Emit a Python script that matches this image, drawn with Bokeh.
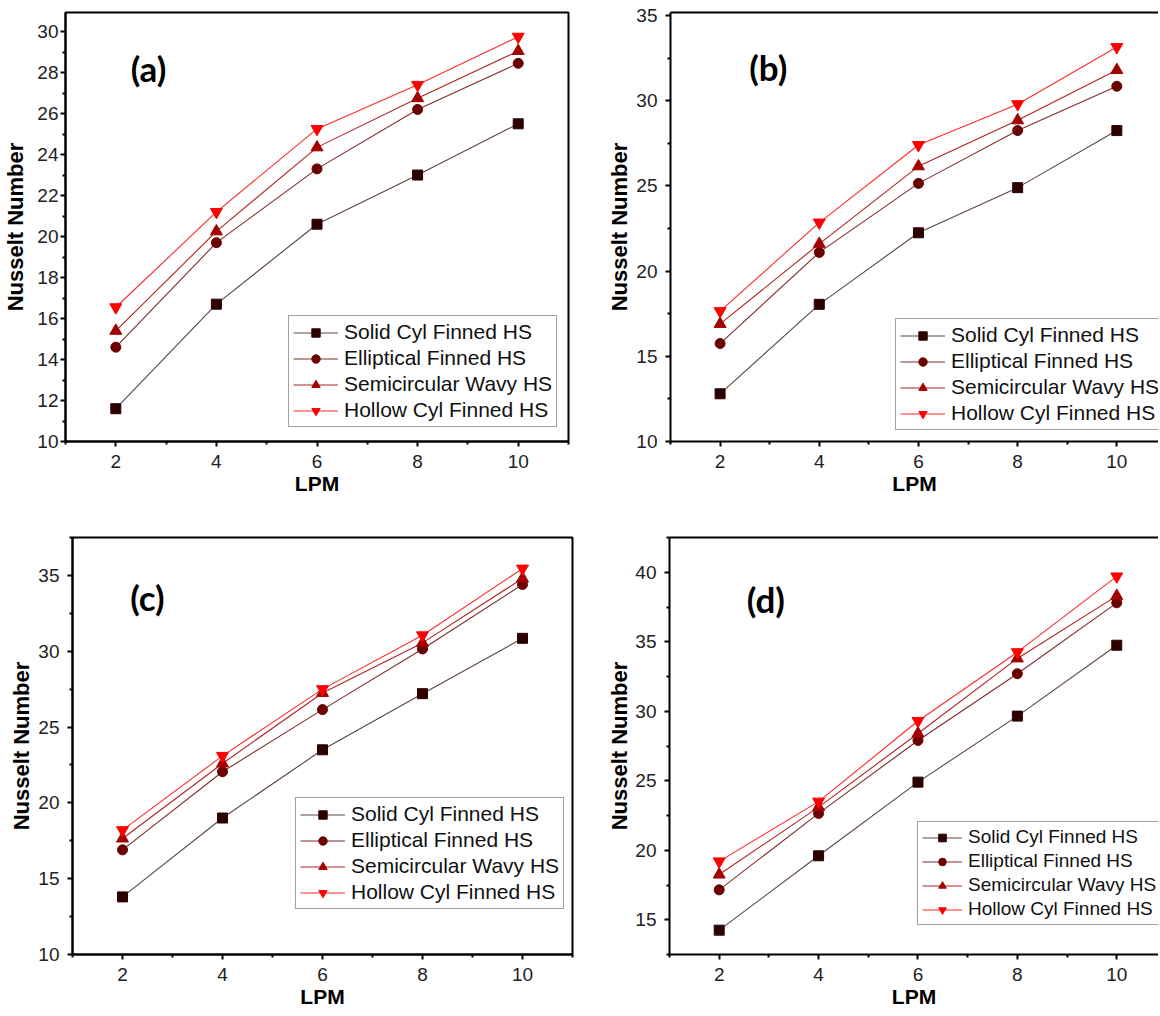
from bokeh.plotting import figure
from bokeh.models import Range1d, FixedTicker, LinearAxis, Label
from bokeh.layouts import column, row
from bokeh.embed import file_html
from bokeh.resources import INLINE

# ---------------- data ----------------
lpm = [2, 4, 6, 8, 10]
series_names = ["Solid Cyl Finned HS", "Elliptical Finned HS",
                "Semicircular Wavy HS", "Hollow Cyl Finned HS"]

a_solid = [11.6, 16.7, 20.6, 23.0, 25.5]
a_ellip = [14.6, 19.7, 23.3, 26.2, 28.45]
a_semi = [15.4, 20.25, 24.35, 26.75, 29.05]
a_hollow = [16.55, 21.2, 25.25, 27.4, 29.75]

b_solid = [12.8, 18.05, 22.25, 24.9, 28.25]
b_ellip = [15.75, 21.1, 25.15, 28.25, 30.85]
b_semi = [16.9, 21.6, 26.15, 28.85, 31.8]
b_hollow = [17.65, 22.85, 27.4, 29.8, 33.15]

c_solid = [13.8, 19.0, 23.5, 27.2, 30.85]
c_ellip = [16.9, 22.05, 26.15, 30.15, 34.4]
c_semi = [17.65, 22.6, 27.25, 30.55, 34.8]
c_hollow = [18.2, 23.1, 27.5, 31.05, 35.45]

d_solid = [14.25, 19.6, 24.9, 29.65, 34.75]
d_ellip = [17.15, 22.65, 27.9, 32.7, 37.8]
d_semi = [18.25, 23.1, 28.4, 33.8, 38.3]
d_hollow = [19.2, 23.5, 29.3, 34.25, 39.7]

x_ticks = [2, 4, 6, 8, 10]
x_minor = [1, 3, 5, 7, 9, 11]
a_yticks = [10, 12, 14, 16, 18, 20, 22, 24, 26, 28, 30]
a_yminor = [11, 13, 15, 17, 19, 21, 23, 25, 27, 29, 31]
b_yticks = [10, 15, 20, 25, 30, 35]
b_yminor = [12.5, 17.5, 22.5, 27.5, 32.5]
c_yticks = [10, 15, 20, 25, 30, 35]
c_yminor = [12.5, 17.5, 22.5, 27.5, 32.5, 37.5]
d_yticks = [15, 20, 25, 30, 35, 40]
d_yminor = [12.5, 17.5, 22.5, 27.5, 32.5, 37.5, 42.5]

# ---------------- styles ----------------
marker_colors = ["#2d0000", "#6b0000", "#a30000", "#ff0000"]
line_colors = ["#5c4444", "#7c2c2c", "#b02222", "#ff2a2a"]
markers = ["square", "circle", "triangle", "inverted_triangle"]
marker_sizes = [10, 10, 12, 12]
FONT = "Liberation Sans"


def make_panel(tag, series, yr, yticks, yminor, x_end, W, H, borders,
               legend_loc, legend_font, glyph_w, legend_spacing, tag_pos,
               boxed, ylab_standoff, ylabel_standoff):
    left, top, right, bottom = borders
    p = figure(width=W, height=H, x_range=Range1d(1, x_end),
               y_range=Range1d(*yr), output_backend="svg",
               toolbar_location=None,
               min_border_left=left, min_border_top=top,
               min_border_right=right, min_border_bottom=bottom)
    p.xgrid.visible = False
    p.ygrid.visible = False
    p.background_fill_color = "white"
    p.border_fill_color = "white"
    if boxed:
        p.outline_line_color = "black"
        p.outline_line_width = 2
        p.outline_line_alpha = 1
    else:
        p.outline_line_color = None

    for i, ys in enumerate(series):
        p.line(lpm, ys, line_color=line_colors[i], line_width=1.1,
               legend_label=series_names[i])
        p.scatter(lpm, ys, marker=markers[i], size=marker_sizes[i],
                  fill_color=marker_colors[i], line_color=marker_colors[i],
                  legend_label=series_names[i])

    xa = p.xaxis[0]
    ya = p.yaxis[0]
    xa.ticker = FixedTicker(ticks=x_ticks, minor_ticks=x_minor)
    ya.ticker = FixedTicker(ticks=yticks, minor_ticks=yminor)
    for ax in (xa, ya):
        ax.axis_line_width = 2
        ax.axis_line_color = "black"
        ax.major_tick_line_width = 2
        ax.major_tick_line_color = "black"
        ax.major_tick_out = 5
        ax.major_tick_in = 0
        ax.minor_tick_line_width = 2
        ax.minor_tick_line_color = "black"
        ax.minor_tick_out = 3
        ax.minor_tick_in = 0
        ax.major_label_text_font = FONT
        ax.major_label_text_font_size = "19px"
        ax.major_label_text_color = "#222222"
        ax.axis_label_text_font = FONT
        ax.axis_label_text_font_style = "bold"
        ax.axis_label_text_font_size = "22px"
        ax.axis_label_text_color = "black"
    xa.axis_label = "LPM"
    xa.axis_label_text_font_size = "21px"
    ya.axis_label = "Nusselt Number"
    xa.major_label_standoff = 8
    xa.axis_label_standoff = 1
    ya.major_label_standoff = ylab_standoff
    ya.axis_label_standoff = ylabel_standoff

    if not boxed:
        top_axis = LinearAxis(ticker=FixedTicker(ticks=[]),
                              major_label_text_font_size="0px",
                              major_label_standoff=0,
                              axis_line_width=2, axis_line_color="black",
                              major_tick_out=0, major_tick_in=0,
                              minor_tick_out=0, minor_tick_in=0,
                              major_tick_line_color=None,
                              minor_tick_line_color=None)
        p.add_layout(top_axis, "above")

    lg = p.legend[0]
    lg.location = legend_loc
    lg.border_line_color = "#444444"
    lg.border_line_width = 1.5
    lg.background_fill_color = "white"
    lg.background_fill_alpha = 1
    lg.label_text_font = FONT
    lg.label_text_font_size = f"{legend_font}px"
    lg.label_text_color = "#111111"
    lg.glyph_width = glyph_w
    lg.glyph_height = legend_font
    lg.label_height = legend_font
    lg.spacing = legend_spacing
    lg.padding = 4
    lg.margin = 0
    lg.label_standoff = 6

    p.add_layout(Label(x=tag_pos[0], y=tag_pos[1], text=tag,
                       text_font="Lato", text_font_style="bold",
                       text_font_size="35px", text_color="black",
                       text_align="center", text_baseline="middle"))
    return p


WL, WR = 604, 554
H1, H2 = 499, 513

pa = make_panel("(a)", [a_solid, a_ellip, a_semi, a_hollow], (10, 30.93),
                a_yticks, a_yminor, 11, WL, H1, (64, 12, 36, 58),
                (223, 14), 21, 45, 2, (2.65, 28.2), True, 2, 6)
pb = make_panel("(b)", [b_solid, b_ellip, b_semi, b_hollow], (10, 35.18),
                b_yticks, b_yminor, 1 + 492 / 50, WR, H1, (62, 12, 0, 58),
                (225, 11), 21, 45, 2, (2.97, 31.96), False, 8, 1)
pc = make_panel("(c)", [c_solid, c_ellip, c_semi, c_hollow], (10, 37.5),
                c_yticks, c_yminor, 11, WL, H2, (72, 38, 32, 58),
                (223, 45), 21, 45, 2, (2.5, 33.6), True, 8, 1)
pd = make_panel("(d)", [d_solid, d_ellip, d_semi, d_hollow], (12.5, 42.5),
                d_yticks, d_yminor, 1 + 492 / 50, WR, H2, (62, 38, 0, 58),
                (248, 29), 19, 40, 2, (2.94, 38.1), False, 8, 0)

layout = column(row(pa, pb), row(pc, pd))
open("out.html", "w").write(file_html(layout, INLINE))
